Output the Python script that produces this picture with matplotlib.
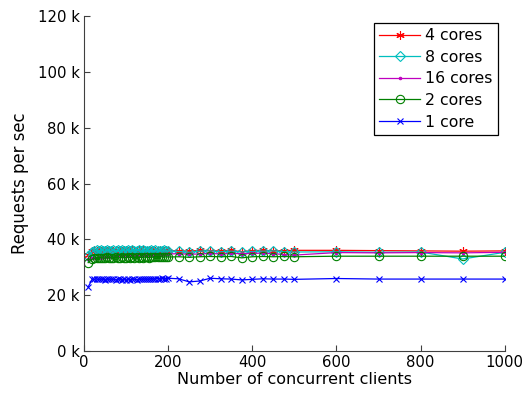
import matplotlib
matplotlib.use("Agg")
import matplotlib.pyplot as plt
from matplotlib.ticker import FuncFormatter

plt.rcParams['font.family'] = ['DejaVu Sans']

# Number of concurrent clients
clients = [10, 20, 25, 30, 35, 40, 45, 50, 55, 60, 65, 70, 75, 80, 85, 90, 95, 100,
           105, 110, 115, 120, 125, 130, 135, 140, 145, 150, 155, 160, 165, 170, 175,
           180, 185, 190, 195, 200,
           225, 250, 275, 300, 325, 350, 375, 400, 425, 450, 475, 500,
           600, 700, 800, 900, 1000]

# Requests per second (thousands) per core count
cores4 = [34.5, 35.8, 36.1, 35.9, 36.2, 35.8, 36.0, 36.2, 35.9, 36.1, 35.8, 36.0, 36.2, 35.9,
          36.0, 35.8, 36.1, 36.2, 35.9, 36.0, 36.1, 35.8, 36.0, 36.2, 35.9, 36.1, 35.8, 36.0,
          36.1, 35.9, 36.2, 36.0, 35.8, 36.1, 35.9, 36.0, 36.1, 35.9,
          36.0, 35.8, 36.1, 36.0, 35.9, 36.1, 35.6, 36.0, 36.1, 35.9, 36.0, 36.1,
          36.1, 36.0, 35.9, 35.8, 35.9]
cores8 = [34.0, 35.6, 36.0, 36.3, 35.8, 36.2, 36.0, 35.7, 36.3, 36.0, 35.8, 36.2, 35.9, 36.1,
          35.7, 36.2, 36.0, 35.8, 36.1, 35.9, 36.2, 35.7, 36.0, 36.1, 35.8, 36.2, 35.9, 36.0,
          35.7, 36.1, 35.9, 36.2, 35.8, 36.0, 35.9, 36.1, 35.8, 35.9,
          35.7, 35.4, 35.8, 35.9, 35.6, 35.8, 35.5, 35.7, 35.8, 35.9, 35.6, 35.5,
          35.6, 35.4, 35.5, 33.0, 35.4]
cores16 = [33.0, 33.3, 33.5, 33.4, 33.6, 33.5, 33.7, 33.6, 33.8, 33.7, 33.9, 33.8, 34.0, 33.9,
           34.1, 34.0, 34.2, 34.1, 34.3, 34.2, 34.3, 34.4, 34.3, 34.5, 34.4, 34.5, 34.4, 34.6,
           34.5, 34.6, 34.5, 34.7, 34.6, 34.7, 34.6, 34.8, 34.7, 34.8,
           34.9, 34.7, 34.8, 35.0, 34.8, 35.0, 34.9, 35.0, 35.1, 34.9, 34.6, 34.4,
           35.3, 35.2, 35.3, 35.2, 35.4]
cores2 = [31.7, 33.0, 33.3, 33.4, 33.2, 33.5, 33.4, 33.3, 33.6, 33.4, 33.5, 33.3, 33.6, 33.5,
          33.4, 33.6, 33.5, 33.4, 33.7, 33.5, 33.6, 33.4, 33.7, 33.5, 33.6, 33.5, 33.7, 33.6,
          33.5, 33.7, 33.6, 33.8, 33.6, 33.7, 33.8, 33.6, 33.8, 33.7,
          33.8, 33.6, 33.8, 33.9, 33.8, 33.9, 33.4, 33.8, 33.9, 33.8, 33.9, 33.8,
          34.0, 34.0, 34.0, 34.0, 34.0]
cores1 = [23.0, 25.8, 25.7, 25.8, 25.7, 25.8, 25.7, 25.6, 25.8, 25.7, 25.8, 25.7, 25.6, 25.7,
          25.8, 25.6, 25.7, 25.5, 25.7, 25.6, 25.8, 25.7, 25.6, 25.8, 25.7, 25.8, 25.9, 25.7,
          25.8, 26.0, 25.8, 25.9, 26.0, 25.9, 26.1, 25.9, 26.0, 26.1,
          25.9, 24.8, 25.1, 26.1, 25.9, 25.8, 25.5, 25.7, 25.9, 25.8, 25.8, 25.7,
          26.0, 25.8, 25.8, 25.8, 25.8]

series = [
    ("4 cores", cores4, (1.0, 0.0, 0.0), (6, 2, 0), 6, 'full'),
    ("8 cores", cores8, (0.0, 0.75, 0.75), 'D', 4.8, 'none'),
    ("16 cores", cores16, (0.75, 0.0, 0.75), '.', 3.5, 'full'),
    ("2 cores", cores2, (0.0, 0.5, 0.0), 'o', 6, 'none'),
    ("1 core", cores1, (0.0, 0.0, 1.0), 'x', 4.5, 'full'),
]

fig = plt.figure(figsize=(5.28, 3.98), dpi=100)
ax = fig.add_axes([0.159, 0.118, 0.797, 0.841])

for label, vals, color, marker, ms, fill in series:
    reqs = [v * 1000 for v in vals]
    kw = dict(color=color, marker=marker, markersize=ms, linewidth=0.9,
              markeredgewidth=0.8, label=label)
    if fill == 'none':
        kw['markerfacecolor'] = 'none'
    ax.plot(clients, reqs, **kw)

ax.set_xlim(0, 1000)
ax.set_ylim(0, 120000)
ax.set_xticks([0, 200, 400, 600, 800, 1000])
ax.set_yticks([0, 20000, 40000, 60000, 80000, 100000, 120000])
ax.yaxis.set_major_formatter(FuncFormatter(lambda v, p: f"{int(round(v / 1000))} k"))

for side in ('top', 'right'):
    ax.spines[side].set_visible(False)
for side in ('left', 'bottom'):
    ax.spines[side].set_color('#404040')
    ax.spines[side].set_linewidth(0.8)
ax.tick_params(direction='in', length=4, width=0.8, color='#404040',
               labelsize=10.7, pad=3)

ax.set_xlabel("Number of concurrent clients", fontsize=11.5, labelpad=1.5)
ax.set_ylabel("Requests per sec", fontsize=11.9, labelpad=6)

leg = ax.legend(loc='upper right', bbox_to_anchor=(0.983, 0.981), borderaxespad=0,
                fontsize=11.3, fancybox=False, framealpha=1, edgecolor='black',
                handlelength=2.6, handletextpad=0.3, labelspacing=0.42,
                borderpad=0.35, numpoints=1)
leg.get_frame().set_linewidth(0.9)

fig.savefig("out.png", dpi=100)
